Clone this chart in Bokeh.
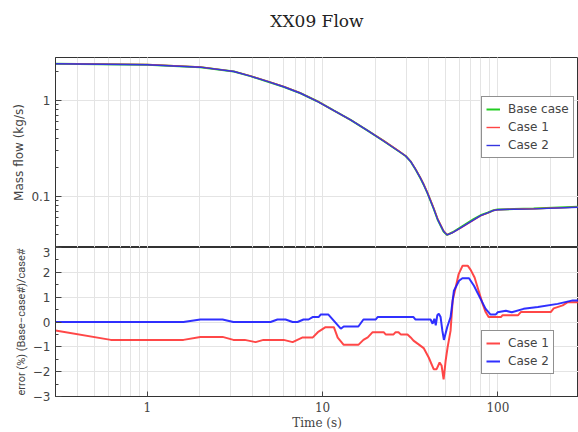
from bokeh.plotting import figure
from bokeh.layouts import column
from bokeh.models import (Range1d, NumeralTickFormatter, SingleIntervalTicker, FixedTicker,
                          Legend, LegendItem)
from bokeh.core.properties import value
from bokeh.embed import file_html
from bokeh.resources import INLINE

# ---- data ----
title_text = "XX09 Flow"

t_flow = [0.3, 1.0, 2.01, 3.12, 3.88, 4.84, 5.99, 7.49, 9.33, 11.55, 14.44, 17.99, 22.28, 27.86,
          29.76, 31.77, 33.93, 36.23, 37.67, 39.71, 42.97, 45.29, 47.1, 48.98, 51.29, 55.17, 61.24,
          72.66, 79.6, 87.3, 94.5, 99.6, 122.9, 159.8, 288.0]
flow_base = [2.41, 2.35, 2.22, 2.0, 1.79, 1.577, 1.389, 1.188, 0.981, 0.787, 0.626, 0.487, 0.379, 0.287,
             0.264, 0.2316, 0.191, 0.154, 0.1334, 0.1075, 0.075, 0.0576, 0.0499, 0.0432, 0.0397, 0.0424, 0.0478,
             0.0580, 0.0637, 0.0676, 0.0718, 0.0730, 0.0740, 0.0747, 0.0780]
flow_case1 = [2.42, 2.37, 2.23, 2.01, 1.80, 1.587, 1.398, 1.195, 0.985, 0.789, 0.629, 0.489, 0.381, 0.289,
              0.265, 0.233, 0.193, 0.156, 0.1352, 0.1095, 0.0765, 0.0588, 0.0509, 0.0440, 0.0399, 0.0421, 0.0468,
              0.0567, 0.0628, 0.0672, 0.0715, 0.0728, 0.0738, 0.0744, 0.0774]
flow_case2 = [2.41, 2.35, 2.22, 2.0, 1.79, 1.577, 1.389, 1.188, 0.980, 0.788, 0.626, 0.487, 0.378, 0.287,
              0.264, 0.2316, 0.191, 0.154, 0.1334, 0.1075, 0.075, 0.0577, 0.0500, 0.0434, 0.0398, 0.0421, 0.0470,
              0.0569, 0.0631, 0.0674, 0.0716, 0.0727, 0.0737, 0.0743, 0.0773]

t_err1 = [0.3, 0.62, 1.61, 2.01, 2.69, 3.1, 3.6, 4.15, 4.6, 6.0, 6.75, 7.7, 8.8, 9.4, 10.4, 11.6, 12.2,
          13.2, 16.0, 17.1, 18.1, 19.3, 22.3, 22.9, 25.4, 26.1, 27.1, 27.9, 30.5, 31.8, 33.0, 35.3,
          37.7, 40.3, 43.0, 44.7, 46.5, 47.7, 49.0, 50.3, 51.6, 53.7, 55.2, 57.4, 59.7, 62.9, 67.2,
          69.9, 73.6, 77.6, 81.8, 85.1, 88.5, 104.0, 106.0, 130.0, 135.0, 200.0, 208.0, 234.0, 250.0, 288.0]
err_case1 = [-0.34, -0.72, -0.72, -0.6, -0.6, -0.72, -0.72, -0.81, -0.72, -0.72, -0.81, -0.62, -0.62,
             -0.41, -0.21, -0.21, -0.63, -0.92, -0.92, -0.72, -0.62, -0.41, -0.41, -0.5, -0.5, -0.41,
             -0.41, -0.5, -0.5, -0.62, -0.75, -0.9, -1.05, -1.43, -1.9, -1.9, -1.63, -1.75, -2.31,
             -1.57, -1.03, -0.35, 0.87, 1.39, 1.93, 2.27, 2.27, 2.1, 1.79, 1.26, 0.73, 0.4, 0.2, 0.2,
             0.27, 0.27, 0.4, 0.4, 0.55, 0.67, 0.8, 0.8]

t_err2 = [0.3, 1.61, 2.01, 2.69, 3.1, 5.05, 5.53, 6.15, 6.75, 7.2, 7.79, 8.32, 8.77, 9.49, 9.75, 10.8,
          12.7, 13.2, 16.0, 17.1, 20.1, 20.6, 33.0, 33.9, 41.3, 42.4, 43.4, 44.2, 45.1, 46.0, 47.1,
          48.2, 49.2, 51.4, 53.7, 56.1, 60.0, 62.7, 68.4, 73.0, 79.6, 85.1, 90.8, 97.0, 99.6, 111.0,
          120.0, 140.0, 169.0, 219.0, 267.0, 288.0]
err_case2 = [0.0, 0.0, 0.1, 0.1, 0.0, 0.0, 0.1, 0.1, 0.0, 0.0, 0.1, 0.1, 0.2, 0.2, 0.3, 0.3,
             -0.27, -0.18, -0.18, 0.1, 0.1, 0.2, 0.2, 0.1, 0.1, -0.07, 0.13, -0.13, 0.27, 0.33, 0.2,
             -0.35, -0.72, -0.2, 0.2, 1.26, 1.66, 1.76, 1.76, 1.46, 0.93, 0.53, 0.3, 0.3, 0.39, 0.45,
             0.39, 0.53, 0.6, 0.73, 0.87, 0.87]

x_lo, x_hi = 0.3, 288.0
flow_lo, flow_hi = 0.0294, 2.8
flow_major = [0.1, 1]
flow_minor = [0.03, 0.04, 0.05, 0.06, 0.07, 0.08, 0.09, 0.2, 0.3, 0.4, 0.5, 0.6, 0.7, 0.8, 0.9, 2]
err_lo, err_hi = -3, 3
err_ticks = [-3, -2, -1, 0, 1, 2, 3]
err_labels = {v: (("\u2212" + str(-v)) if v < 0 else str(v)) for v in err_ticks}

SANS = "DejaVu Sans"
SERIF = "DejaVu Serif"
AX = "#444444"
GRID = "#e4e4e4"

xr = Range1d(x_lo, x_hi)

# ---- title strip ----
pt = figure(width=578, height=40, x_range=Range1d(0, 1), y_range=Range1d(0, 40),
            x_axis_location=None, y_axis_location=None, toolbar_location=None,
            output_backend="svg", min_border_left=55, min_border_right=0,
            min_border_top=0, min_border_bottom=0)
pt.outline_line_color = None
pt.grid.visible = False
pt.background_fill_color = "white"
pt.border_fill_color = "white"
pt.text(x=[0.5], y=[20], text=[title_text], text_align="center", text_baseline="middle",
        text_font=value(SERIF), text_font_size="17px", text_color="#222222")


def style_common(p, label_font, label_size):
    p.outline_line_color = "#333333"
    p.outline_line_width = 1
    p.background_fill_color = "white"
    p.border_fill_color = "white"
    p.xgrid.grid_line_color = GRID
    p.xgrid.minor_grid_line_color = GRID
    p.ygrid.grid_line_color = GRID
    for ax in p.yaxis:
        ax.major_tick_in = 6
        ax.major_tick_out = 0
        ax.minor_tick_in = 3
        ax.minor_tick_out = 0
        ax.axis_line_color = "#333333"
        ax.major_tick_line_color = AX
        ax.minor_tick_line_color = AX
        ax.major_label_text_font = SANS
        ax.major_label_text_font_size = "12px"
        ax.major_label_text_color = AX
        ax.major_label_standoff = 5
        ax.axis_label_text_font = label_font
        ax.axis_label_text_font_size = label_size
        ax.axis_label_text_font_style = "normal"
        ax.axis_label_text_color = AX
        ax.axis_label_standoff = 2


# ---- top panel ----
p1 = figure(width=578, height=207, x_axis_type="log", y_axis_type="log",
            x_range=xr, y_range=Range1d(flow_lo, flow_hi),
            x_axis_location=None, toolbar_location=None, output_backend="svg",
            min_border_left=55, min_border_right=0, min_border_top=17, min_border_bottom=0)
style_common(p1, SANS, "12px")
p1.yaxis.axis_label = "Mass flow (kg/s)"
p1.yaxis.ticker = FixedTicker(ticks=flow_major, minor_ticks=flow_minor)
p1.yaxis.formatter = NumeralTickFormatter(format="0.[0]")

r_b = p1.line(t_flow, flow_base, line_color="#22cc22", line_width=2)
r_c1 = p1.line(t_flow, flow_case1, line_color="#ff4444", line_width=1.4)
r_c2 = p1.line(t_flow, flow_case2, line_color="#3535e0", line_width=1.4)

leg1 = Legend(items=[LegendItem(label="Base case", renderers=[r_b]),
                     LegendItem(label="Case 1", renderers=[r_c1]),
                     LegendItem(label="Case 2", renderers=[r_c2])],
              location=(426, 89))

# ---- bottom panel ----
p2 = figure(width=578, height=185, x_axis_type="log",
            x_range=xr, y_range=Range1d(err_lo, err_hi),
            toolbar_location=None, output_backend="svg",
            min_border_left=55, min_border_right=0, min_border_top=0, min_border_bottom=36)
style_common(p2, "Roboto", "11px")
p2.yaxis.axis_label = "error (%) (Base\u2212case#)/case#"
p2.yaxis.ticker = SingleIntervalTicker(interval=1, num_minor_ticks=2)
p2.yaxis.major_label_overrides = err_labels
xa = p2.xaxis[0]
xa.formatter = NumeralTickFormatter(format="0.[0]")
xa.major_tick_in = 5
xa.major_tick_out = 0
xa.minor_tick_in = 0
xa.minor_tick_out = 0
xa.axis_line_color = "#333333"
xa.major_tick_line_color = AX
xa.major_label_text_font = SERIF
xa.major_label_text_font_size = "12px"
xa.major_label_text_color = AX
xa.major_label_standoff = 5
xa.axis_label = "Time (s)"
xa.axis_label_text_font = SERIF
xa.axis_label_text_font_size = "12px"
xa.axis_label_text_font_style = "normal"
xa.axis_label_text_color = AX
xa.axis_label_standoff = 1

e1 = p2.line(t_err1, err_case1, line_color="#ff3333", line_width=2, line_alpha=0.9)
e2 = p2.line(t_err2, err_case2, line_color="#1a1aff", line_width=2, line_alpha=0.9)

leg2 = Legend(items=[LegendItem(label="Case 1", renderers=[e1]),
                     LegendItem(label="Case 2", renderers=[e2])],
              location=(426, 22))

for lg in [leg1, leg2]:
    lg.border_line_color = "#222222"
    lg.border_line_width = 1
    lg.background_fill_color = "white"
    lg.background_fill_alpha = 1.0
    lg.label_text_font = SANS
    lg.label_text_font_size = "12px"
    lg.label_text_color = AX
    lg.glyph_width = 14
    lg.glyph_height = 16
    lg.label_height = 16
    lg.label_standoff = 8
    lg.spacing = 2
    lg.padding = 4
    lg.margin = 0

p1.add_layout(leg1, "center")
p2.add_layout(leg2, "center")

layout = column(pt, p1, p2, spacing=0)
open("out.html", "w").write(file_html(layout, INLINE))
